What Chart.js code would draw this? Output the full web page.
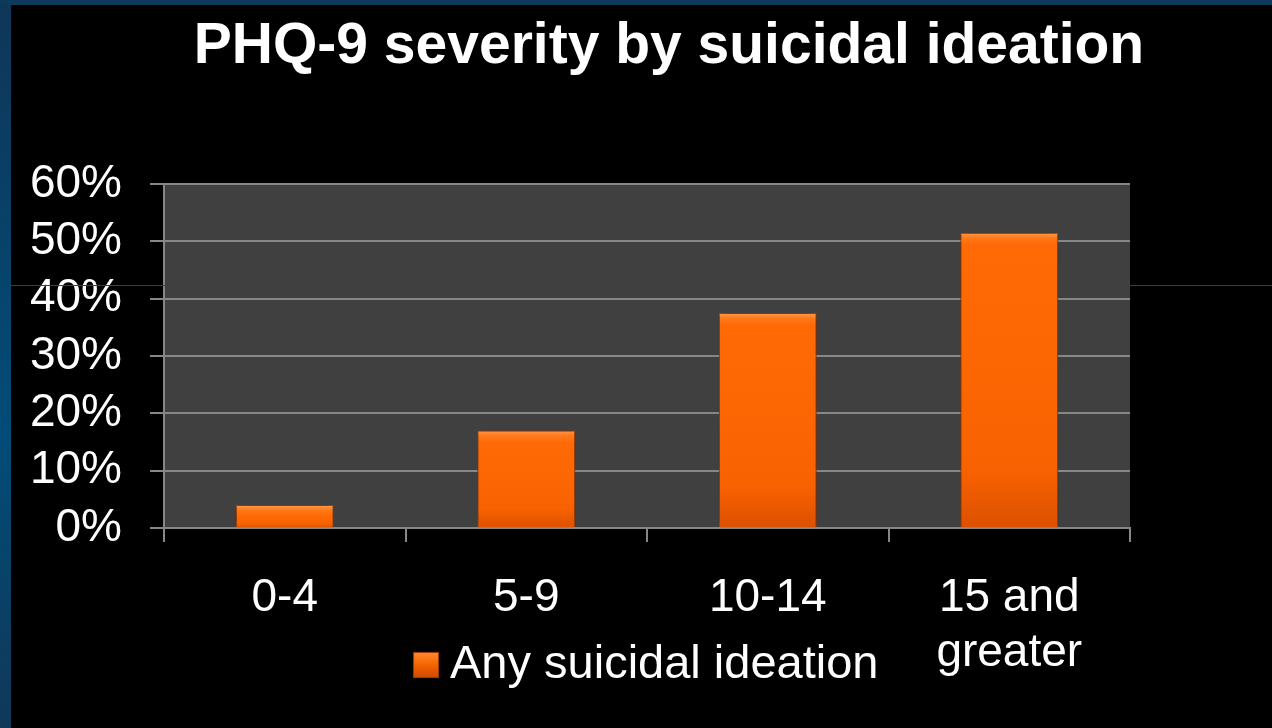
<!DOCTYPE html>
<html>
<head>
<meta charset="utf-8">
<script src="https://cdn.jsdelivr.net/npm/chart.js@4.4.1/dist/chart.umd.min.js"></script>
<style>
  html, body { margin: 0; padding: 0; background: #000; overflow: hidden; }
  #wrap { position: relative; width: 1272px; height: 728px; }
</style>
</head>
<body>
<div id="wrap"><canvas id="c"></canvas></div>
<script>
// ---- data ----
const titleText = 'PHQ-9 severity by suicidal ideation';
const categories = ['0-4', '5-9', '10-14', ['15 and', 'greater']];
const seriesName = 'Any suicidal ideation';
const values = [4, 17, 37.5, 51.5];
const yMin = 0;
const yMax = 60;
const yStep = 10;

// ---- styling helpers ----
const FONT = "'Liberation Sans', Arial, Helvetica, sans-serif";
const GRID = '#878787';

function barFill(ctx) {
  const chart = ctx.chart;
  const area = chart.chartArea;
  if (!area || ctx.raw === undefined) return '#ff6600';
  const top = chart.scales.y.getPixelForValue(ctx.raw);
  const bottom = area.bottom;
  const h = Math.max(bottom - top, 1);
  const g = chart.ctx.createLinearGradient(0, top, 0, bottom);
  const s1 = Math.min(5 / h, 0.3);
  const s2 = Math.min(12 / h, 0.45);
  g.addColorStop(0, '#ff9a45');
  g.addColorStop(s1, '#ff7a1c');
  g.addColorStop(s2, '#ff6a06');
  g.addColorStop(Math.max(0.8, s2 + 0.01), '#f96200');
  g.addColorStop(1, '#dc5000');
  return g;
}

// legend swatch (an offscreen canvas used as point style)
const swatch = document.createElement('canvas');
swatch.width = 26; swatch.height = 26;
(function () {
  const s = swatch.getContext('2d');
  const g = s.createLinearGradient(0, 0, 0, 26);
  g.addColorStop(0, '#ff8a30');
  g.addColorStop(0.5, '#f56400');
  g.addColorStop(1, '#d04800');
  s.fillStyle = g;
  s.fillRect(0, 0, 26, 26);
  s.strokeStyle = '#9a3a00';
  s.lineWidth = 1;
  s.strokeRect(0.5, 0.5, 25, 25);
})();

const decor = {
  id: 'decor',
  beforeDraw(chart) {
    const c = chart.ctx;
    const W = chart.width, H = chart.height;
    c.save();
    c.fillStyle = '#000';
    c.fillRect(0, 0, W, H);
    const g = c.createLinearGradient(0, 0, 0, H);
    g.addColorStop(0, '#0f3658');
    g.addColorStop(0.6, '#024c78');
    g.addColorStop(1, '#103858');
    c.fillStyle = g;
    c.fillRect(0, 0, 11, H);
    c.fillStyle = '#0e3a5a';
    c.fillRect(0, 0, W, 5);
    const a = chart.chartArea;
    c.fillStyle = '#404040';
    c.fillRect(a.left, a.top, a.right - a.left, a.bottom - a.top);
    c.restore();
  },
  afterLayout(chart) {
    const t = chart.titleBlock;
    if (t) { t.left = 0; t.right = 1338; }
    const l = chart.legend;
    if (l) { l.left = 0; l.right = 1304; }
    // let the two-line category label extend below the (compact) axis box
    const x = chart.scales.x;
    if (x) { x.bottom = chart.height; }
  },
  beforeDatasetsDraw(chart) {
    const c = chart.ctx;
    c.save();
    c.strokeStyle = '#164a70';
    c.lineWidth = 1;
    c.beginPath();
    c.moveTo(11, 285.5);
    c.lineTo(chart.width, 285.5);
    c.stroke();
    c.restore();
    c.save();
    c.shadowColor = 'rgba(0,0,0,0.55)';
    c.shadowBlur = 10;
    c.shadowOffsetX = 0;
    c.shadowOffsetY = 0;
  },
  afterDatasetsDraw(chart) {
    chart.ctx.restore();
  }
};

Chart.defaults.font.family = FONT;
Chart.defaults.color = '#ffffff';

new Chart(document.getElementById('c'), {
  type: 'bar',
  data: {
    labels: categories,
    datasets: [{
      label: seriesName,
      data: values,
      backgroundColor: barFill,
      borderColor: '#c44a00',
      borderWidth: 1,
      barPercentage: 0.405,
      categoryPercentage: 1
    }]
  },
  options: {
    responsive: true,
    maintainAspectRatio: false,
    animation: false,
    layout: { padding: { left: 0, right: 142, top: 0, bottom: 29.5 } },
    plugins: {
      title: {
        display: true,
        text: titleText,
        color: '#ffffff',
        font: { size: 57, weight: 'bold', family: FONT, lineHeight: 1.2 },
        padding: { top: 13, bottom: 102.6 }
      },
      legend: {
        display: true,
        position: 'bottom',
        labels: {
          color: '#ffffff',
          font: { size: 47, family: FONT },
          usePointStyle: true,
          pointStyle: swatch,
          boxWidth: 1,
          boxHeight: 26,
          padding: 10
        }
      },
      tooltip: { enabled: false }
    },
    scales: {
      x: {
        grid: {
          display: true,
          drawOnChartArea: false,
          drawTicks: true,
          tickLength: 14,
          color: GRID,
          lineWidth: 2,
          offset: true
        },
        border: { display: true, color: GRID, width: 2 },
        ticks: {
          color: '#ffffff',
          font: { size: 46, family: FONT, lineHeight: 1.2 },
          padding: 29,
          maxRotation: 0,
          autoSkip: false
        },
        afterFit(scale) { scale.height = 103.5; }
      },
      y: {
        min: yMin,
        max: yMax,
        grid: {
          color: GRID,
          lineWidth: 2,
          drawTicks: true,
          tickLength: 14
        },
        border: { display: true, color: GRID, width: 2 },
        ticks: {
          stepSize: yStep,
          autoSkip: false,
          color: '#ffffff',
          font: { size: 46, family: FONT, lineHeight: 1.2 },
          padding: 28,
          callback: (v) => v + '%'
        },
        afterFit(scale) { scale.width = 164; }
      }
    }
  },
  plugins: [decor]
});
</script>
</body>
</html>
